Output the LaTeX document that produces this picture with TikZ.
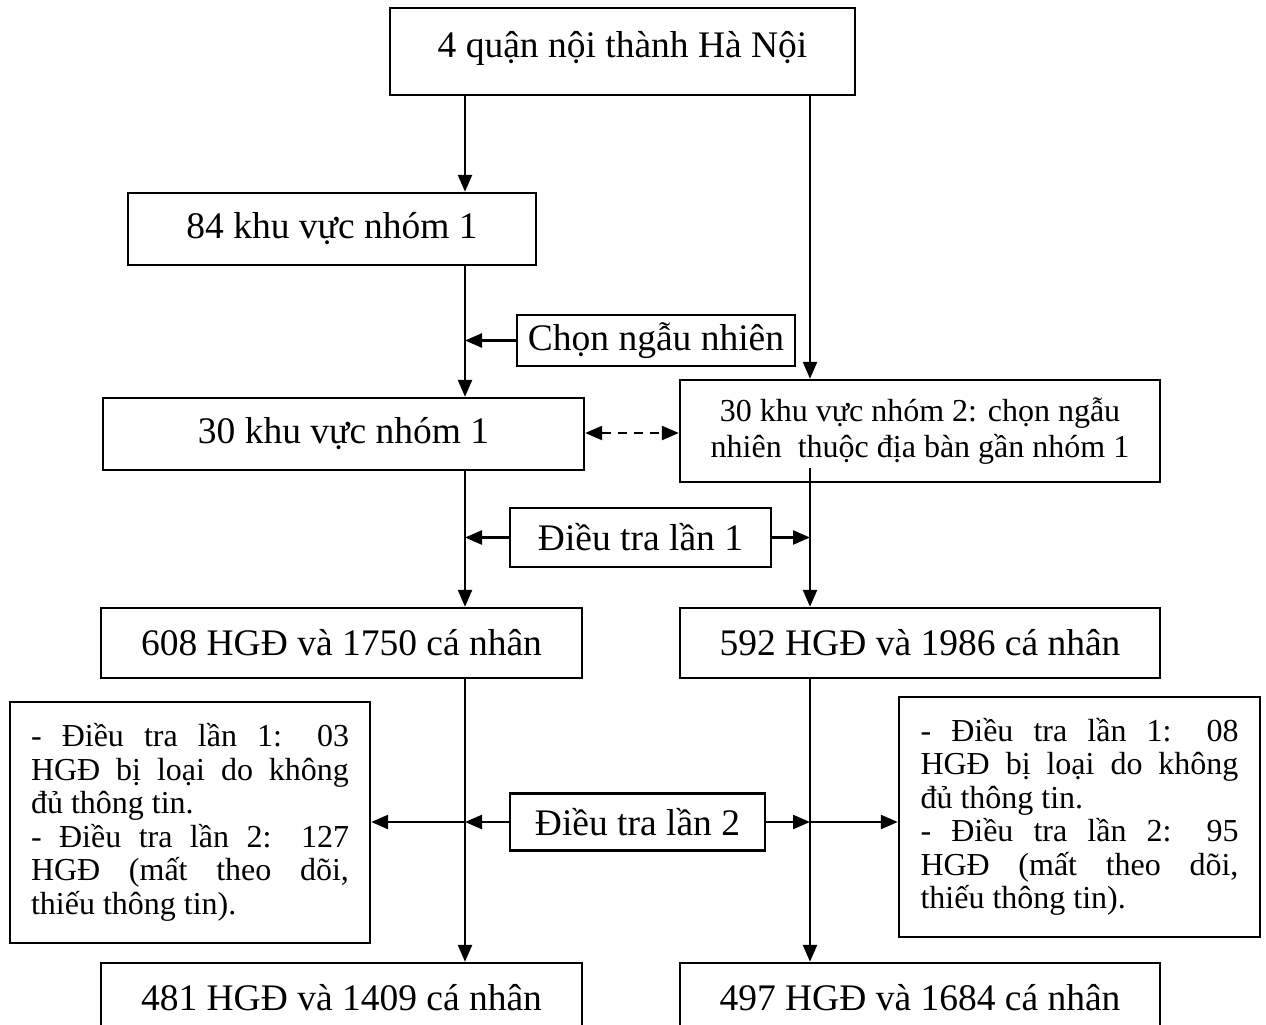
\documentclass[tikz,border=0pt]{standalone}
\usepackage{fontspec}
\setmainfont{Liberation Serif}
\usetikzlibrary{arrows.meta}

\begin{document}
\begin{tikzpicture}[x=1pt,y=-1pt,line width=2.4pt,
  box/.style={draw,inner sep=0pt,font=\fontsize{37.5}{41}\selectfont},
  note/.style={draw,inner sep=0pt,font=\fontsize{32}{33.5}\selectfont},
  arr/.style={-{Triangle[length=17pt,width=14pt]}}]
\clip (0,0) rectangle (1266,1025);
\fill[white] (0,0) rectangle (1266,1025);
\coordinate (xl) at (465,0);
\coordinate (xr) at (810,0);
\node[box,minimum width=465pt,minimum height=87pt,text depth=14pt] (hanoi) at (622.5,51.5) {4 quận nội thành Hà Nội};
\node[box,minimum width=408pt,minimum height=72pt] (kv84) at (332,229) {84 khu vực nhóm 1};
\node[box,minimum width=278pt,minimum height=51pt] (chon) at (656,340.5) {Chọn ngẫu nhiên};
\node[box,minimum width=481pt,minimum height=72pt] (kv30a) at (343.5,434) {30 khu vực nhóm 1};
\node[box,minimum width=480pt,minimum height=102pt,align=center,font=\fontsize{32}{36}\selectfont] (kv30b) at (920,431) {30 khu vực nhóm 2: chọn ngẫu\\nhiên\ \ thuộc địa bàn gần nhóm 1};
\node[box,minimum width=261pt,minimum height=59pt] (dt1) at (640.5,537.5) {Điều tra lần 1};
\node[box,minimum width=481pt,minimum height=70pt] (hgd608) at (341.5,643) {608 HGĐ và 1750 cá nhân};
\node[box,minimum width=480pt,minimum height=70pt] (hgd592) at (920,643) {592 HGĐ và 1986 cá nhân};
\node[box,minimum width=255pt,minimum height=57pt] (dt2) at (637.5,822) {Điều tra lần 2};
\node[note,minimum width=360pt,minimum height=241pt,text width=318pt,align=justify] (loaiA) at (190,822.5)
  {- Điều tra lần 1: 03\linebreak HGĐ bị loại do không\linebreak đủ thông tin.\\- Điều tra lần 2: 127\linebreak HGĐ (mất theo dõi,\linebreak thiếu thông tin).};
\node[note,minimum width=361pt,minimum height=240pt,text width=318pt,align=justify] (loaiB) at (1079.5,817)
  {- Điều tra lần 1: 08\linebreak HGĐ bị loại do không\linebreak đủ thông tin.\\- Điều tra lần 2: 95\linebreak HGĐ (mất theo dõi,\linebreak thiếu thông tin).};
\node[box,minimum width=481pt,minimum height=70pt] (hgd481) at (341.5,998) {481 HGĐ và 1409 cá nhân};
\node[box,minimum width=480pt,minimum height=70pt] (hgd497) at (920,998) {497 HGĐ và 1684 cá nhân};
\draw[arr] (hanoi.south -| xl) -- (kv84.north -| xl);
\draw[arr] (hanoi.south -| xr) -- (kv30b.north -| xr);
\draw[arr] (kv84.south -| xl) -- (kv30a.north -| xl);
\draw[arr] (chon.west) -- (chon.west -| xl);
\draw[{Triangle[length=17pt,width=14pt]}-{Triangle[length=17pt,width=14pt]},dash pattern=on 9pt off 7pt] ([yshift=1pt]kv30a.east) -- ([yshift=1pt]kv30a.east -| kv30b.west);
\draw[arr] (kv30a.south -| xl) -- (hgd608.north -| xl);
\draw[arr] ([yshift=15pt]kv30b.south -| xr) -- (hgd592.north -| xr);
\draw[arr] (dt1.west) -- (dt1.west -| xl);
\draw[arr] (dt1.east) -- (dt1.east -| xr);
\draw[arr] (hgd608.south -| xl) -- (hgd481.north -| xl);
\draw[arr] (hgd592.south -| xr) -- (hgd497.north -| xr);
\draw[arr] (dt2.west) -- (dt2.west -| xl);
\draw[arr] (dt2.west -| xl) -- (loaiA.east |- dt2.west);
\draw[arr] (dt2.east) -- (dt2.east -| xr);
\draw[arr] (dt2.east -| xr) -- (loaiB.west |- dt2.east);
\end{tikzpicture}
\end{document}
